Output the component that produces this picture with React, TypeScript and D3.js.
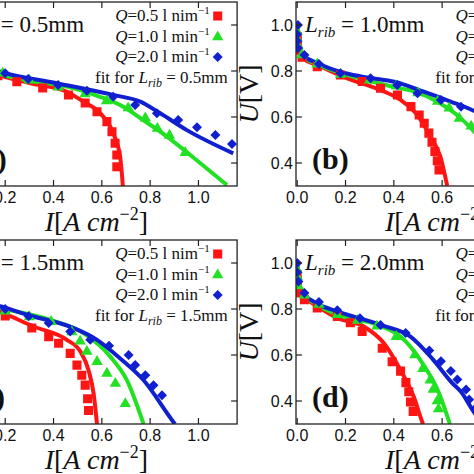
import React from 'react';
import * as d3 from 'd3';

// ---------- tick values / labels ----------
const X_TICKS = [0, 0.2, 0.4, 0.6, 0.8, 1.0];
const Y_TICKS = [0.4, 0.6, 0.8, 1.0];
const RIB_LENGTHS = ['0.5', '1.0', '1.5', '2.0'];
const PANEL_LETTERS = ['a', 'b', 'c', 'd'];
const FLOW_RATES = ['0.5', '1.0', '2.0'];
const FLOW_UNITS = ['nim', 'min', 'min'];

// ---------- panel (a): L_rib = 0.5 mm ----------
const aRedPts = [[0,0.95],[0,0.92],[0.005,0.89],[0.03,0.85],[0.08,0.82],[0.17,0.78],[0.248,0.753],[0.355,0.726],[0.462,0.696],[0.531,0.661],[0.58,0.623],[0.621,0.58],[0.642,0.536],[0.655,0.486],[0.662,0.435],[0.662,0.384]];
const aRedFit = [[0,0.99],[0.003,0.93],[0.01,0.89],[0.03,0.855],[0.08,0.822],[0.179,0.781],[0.3,0.748],[0.455,0.71],[0.523,0.667],[0.593,0.617],[0.647,0.53],[0.676,0.426],[0.687,0.3]];
const aGreenPts = [[0,0.97],[0,0.94],[0.005,0.9],[0.03,0.86],[0.09,0.83],[0.19,0.79],[0.3,0.76],[0.42,0.73],[0.53,0.7],[0.62,0.67],[0.709,0.639],[0.78,0.595],[0.83,0.55],[0.88,0.52],[0.945,0.445]];
const aGreenFit = [[0,0.99],[0.003,0.935],[0.01,0.895],[0.03,0.86],[0.08,0.828],[0.179,0.786],[0.3,0.758],[0.455,0.732],[0.593,0.688],[0.689,0.645],[0.771,0.587],[0.871,0.514],[0.966,0.435],[1.118,0.304]];
const aBluePts = [[0,1.0],[0,0.96],[0.005,0.92],[0.03,0.87],[0.1,0.83],[0.2,0.79],[0.295,0.765],[0.419,0.739],[0.538,0.714],[0.647,0.688],[0.738,0.652],[0.828,0.616],[0.916,0.587],[0.994,0.555],[1.07,0.522],[1.139,0.483]];
const aBlueFit = [[0,1.0],[0.003,0.94],[0.01,0.9],[0.03,0.865],[0.08,0.835],[0.179,0.797],[0.414,0.747],[0.647,0.696],[0.759,0.667],[0.842,0.616],[0.952,0.543],[1.144,0.442]];

// ---------- panel (b): L_rib = 1.0 mm ----------
const bRedPts = [[0,0.95],[0,0.93],[0,0.91],[0.003,0.89],[0.02,0.86],[0.083,0.819],[0.179,0.783],[0.269,0.754],[0.345,0.725],[0.415,0.696],[0.471,0.645],[0.505,0.609],[0.526,0.573],[0.545,0.53],[0.558,0.49],[0.57,0.45],[0.58,0.41],[0.587,0.37]];
const bRedFit = [[0,0.99],[0.003,0.93],[0.01,0.885],[0.03,0.85],[0.083,0.826],[0.207,0.768],[0.345,0.717],[0.428,0.674],[0.497,0.609],[0.552,0.514],[0.593,0.427],[0.621,0.3]];
const bGreenPts = [[0,0.97],[0,0.94],[0.003,0.91],[0.02,0.87],[0.083,0.83],[0.18,0.785],[0.3,0.76],[0.41,0.735],[0.5,0.705],[0.581,0.667],[0.629,0.638],[0.671,0.594],[0.72,0.56],[0.77,0.52],[0.82,0.47],[0.87,0.42]];
const bGreenFit = [[0,0.99],[0.003,0.935],[0.01,0.895],[0.03,0.86],[0.083,0.83],[0.2,0.785],[0.402,0.73],[0.504,0.705],[0.567,0.674],[0.678,0.594],[0.733,0.536],[0.8,0.47],[0.9,0.37],[0.97,0.3]];
const bBluePts = [[0.003,1.0],[0,0.96],[0,0.93],[0.003,0.9],[0.03,0.87],[0.09,0.83],[0.179,0.79],[0.304,0.768],[0.414,0.739],[0.498,0.703],[0.595,0.674],[0.678,0.645],[0.77,0.6],[0.86,0.56],[0.95,0.52],[1.04,0.48],[1.12,0.44]];
const bBlueFit = [[0,1.0],[0.003,0.94],[0.01,0.9],[0.03,0.865],[0.083,0.835],[0.2,0.79],[0.3,0.77],[0.402,0.753],[0.524,0.71],[0.635,0.667],[0.733,0.626],[0.85,0.56],[1.0,0.45],[1.15,0.34]];

// ---------- panel (c): L_rib = 1.5 mm ----------
const cRedPts = [[0,0.95],[0,0.92],[0.005,0.89],[0.03,0.85],[0.1,0.81],[0.2,0.77],[0.31,0.717],[0.38,0.68],[0.421,0.651],[0.469,0.607],[0.497,0.556],[0.517,0.512],[0.531,0.469],[0.541,0.41],[0.545,0.359]];
const cRedFit = [[0,0.99],[0.003,0.93],[0.01,0.885],[0.03,0.85],[0.08,0.82],[0.179,0.787],[0.317,0.724],[0.455,0.666],[0.511,0.615],[0.545,0.534],[0.566,0.432],[0.58,0.3]];
const cGreenPts = [[0,0.97],[0,0.94],[0.005,0.9],[0.03,0.86],[0.1,0.83],[0.2,0.79],[0.3,0.765],[0.39,0.745],[0.476,0.7],[0.51,0.66],[0.538,0.615],[0.58,0.571],[0.621,0.52],[0.656,0.476],[0.697,0.388]];
const cGreenFit = [[0,0.99],[0.003,0.935],[0.01,0.895],[0.03,0.86],[0.08,0.83],[0.179,0.804],[0.386,0.753],[0.524,0.695],[0.635,0.593],[0.704,0.49],[0.773,0.3]];
const cBluePts = [[0,1.0],[0,0.96],[0.005,0.92],[0.03,0.87],[0.1,0.835],[0.2,0.8],[0.297,0.768],[0.38,0.739],[0.469,0.702],[0.552,0.666],[0.63,0.64],[0.711,0.6],[0.738,0.556],[0.78,0.512],[0.814,0.469],[0.849,0.425]];
const cBlueFit = [[0,1.0],[0.003,0.94],[0.01,0.9],[0.03,0.865],[0.08,0.835],[0.179,0.812],[0.29,0.775],[0.483,0.717],[0.58,0.666],[0.676,0.585],[0.773,0.49],[0.897,0.308],[0.903,0.3]];

// ---------- panel (d): L_rib = 2.0 mm ----------
const dRedPts = [[0,0.95],[0,0.92],[0,0.9],[0.005,0.87],[0.03,0.84],[0.083,0.804],[0.166,0.768],[0.22,0.74],[0.269,0.702],[0.352,0.629],[0.393,0.571],[0.428,0.53],[0.45,0.48],[0.462,0.44],[0.469,0.396],[0.48,0.355]];
const dRedFit = [[0,0.99],[0.003,0.93],[0.01,0.885],[0.028,0.855],[0.08,0.815],[0.166,0.761],[0.276,0.724],[0.359,0.651],[0.428,0.534],[0.483,0.417],[0.518,0.308],[0.521,0.3]];
const dGreenPts = [[0,0.97],[0,0.94],[0.005,0.9],[0.03,0.86],[0.09,0.82],[0.166,0.775],[0.25,0.75],[0.33,0.725],[0.41,0.68],[0.487,0.6],[0.52,0.54],[0.55,0.49],[0.563,0.45],[0.58,0.4],[0.585,0.365]];
const dGreenFit = [[0,0.99],[0.003,0.935],[0.01,0.895],[0.03,0.86],[0.08,0.82],[0.166,0.775],[0.331,0.731],[0.428,0.68],[0.518,0.565],[0.587,0.435],[0.632,0.3]];
const dBluePts = [[0,1.0],[0,0.96],[0.005,0.92],[0.03,0.87],[0.09,0.83],[0.166,0.795],[0.26,0.76],[0.345,0.73],[0.449,0.696],[0.547,0.62],[0.595,0.573],[0.636,0.53],[0.663,0.493],[0.699,0.45],[0.712,0.406],[0.74,0.37]];
const dBlueFit = [[0,1.0],[0.003,0.94],[0.01,0.9],[0.03,0.865],[0.08,0.825],[0.166,0.79],[0.345,0.731],[0.469,0.68],[0.56,0.583],[0.64,0.48],[0.678,0.44],[0.733,0.35],[0.77,0.3]];

const PANEL_POINTS = [
  [aRedPts, aGreenPts, aBluePts],
  [bRedPts, bGreenPts, bBluePts],
  [cRedPts, cGreenPts, cBluePts],
  [dRedPts, dGreenPts, dBluePts],
];
const PANEL_FITS = [
  [aRedFit, aGreenFit, aBlueFit],
  [bRedFit, bGreenFit, bBlueFit],
  [cRedFit, cGreenFit, cBlueFit],
  [dRedFit, dGreenFit, dBlueFit],
];

// ---------- styling / layout ----------
const COLORS = ['#ff1414', '#22e022', '#1020d0'];
const LAYOUT = [
  { left: -44.3, top: 2 },
  { left: 296, top: 2 },
  { left: -44.3, top: 240 },
  { left: 296, top: 240 },
];
const PW = 281.4;
const PH = 184;
const SERIF = '"Liberation Serif", "DejaVu Serif", serif';
const SANS = '"Liberation Sans", Arial, sans-serif';
const FRAME = '#222';

function Marker({ kind, x, y, color }: { kind: number; x: number; y: number; color: string }) {
  if (kind === 0) {
    const p = d3.symbol().type(d3.symbolSquare).size(82)();
    return <path d={p || ''} transform={`translate(${x},${y})`} fill={color} />;
  }
  if (kind === 1) {
    const p = d3.symbol().type(d3.symbolTriangle).size(56)();
    return <path d={p || ''} transform={`translate(${x},${y})`} fill={color} />;
  }
  const p = d3.symbol().type(d3.symbolSquare).size(50)();
  return <path d={p || ''} transform={`translate(${x},${y}) rotate(45)`} fill={color} />;
}

function Panel({ i }: { i: number }) {
  const { left, top } = LAYOUT[i];
  const x = d3.scaleLinear().domain([-0.005, 1.16]).range([left, left + PW]);
  const y = d3.scaleLinear().domain([0.3, 1.1]).range([top + PH, top]);
  const bottom = top + PH;
  const right = left + PW;
  const line = d3
    .line<number[]>()
    .x((d) => x(d[0]))
    .y((d) => y(d[1]))
    .curve(d3.curveMonotoneX);
  const clipId = `clip-${i}`;
  const tick = 6;
  const cx = (left + right) / 2;
  const cy = (top + bottom) / 2;
  const legX = left + 254;
  const legBase = [top + 19, top + 40, top + 60];

  return (
    <g>
      <defs>
        <clipPath id={clipId}>
          <rect x={left} y={top} width={PW} height={PH} />
        </clipPath>
      </defs>
      {/* data */}
      <g clipPath={`url(#${clipId})`}>
        {PANEL_FITS[i].map((fit, k) => (
          <path key={`f${k}`} d={line(fit) || ''} fill="none" stroke={COLORS[k]} strokeWidth={4} strokeLinecap="butt" />
        ))}
        {PANEL_POINTS[i].map((pts, k) =>
          pts.map((p, j) => <Marker key={`m${k}-${j}`} kind={k} x={x(p[0])} y={y(p[1])} color={COLORS[k]} />)
        )}
      </g>
      {/* frame */}
      <rect x={left} y={top} width={PW} height={PH} fill="none" stroke={FRAME} strokeWidth={1.3} />
      {X_TICKS.map((t) => (
        <g key={`xt${t}`}>
          <line x1={x(t)} x2={x(t)} y1={bottom} y2={bottom - tick} stroke={FRAME} strokeWidth={1.2} />
          <line x1={x(t)} x2={x(t)} y1={top} y2={top + tick} stroke={FRAME} strokeWidth={1.2} />
          <text x={x(t)} y={bottom + 17} textAnchor="middle" fontFamily={SANS} fontSize={16} fill="#111">
            {t.toFixed(1)}
          </text>
        </g>
      ))}
      {Y_TICKS.map((t) => (
        <g key={`yt${t}`}>
          <line x1={left} x2={left + tick} y1={y(t)} y2={y(t)} stroke={FRAME} strokeWidth={1.2} />
          <line x1={right} x2={right - tick} y1={y(t)} y2={y(t)} stroke={FRAME} strokeWidth={1.2} />
          <text x={left - 3} y={y(t) + 6} textAnchor="end" fontFamily={SANS} fontSize={16} fill="#111">
            {t.toFixed(1)}
          </text>
        </g>
      ))}
      {/* axis labels */}
      <text x={cx} y={bottom + 45} textAnchor="middle" fontFamily={SERIF} fontSize={28} fill="#111">
        <tspan fontStyle="italic">I</tspan>
        <tspan>[</tspan>
        <tspan fontStyle="italic">A cm</tspan>
        <tspan fontSize={18} dy={-11}>−2</tspan>
        <tspan dy={11}>]</tspan>
      </text>
      <text
        transform={`translate(${left - 38},${cy}) rotate(-90)`}
        textAnchor="middle"
        fontFamily={SERIF}
        fontSize={28}
        fill="#111"
      >
        <tspan fontStyle="italic">U</tspan>
        <tspan>[V]</tspan>
      </text>
      {/* rib-length label */}
      <text x={left + 9} y={top + 30} fontFamily={SERIF} fontSize={23} fill="#111">
        <tspan fontStyle="italic">L</tspan>
        <tspan fontStyle="italic" fontSize={15} dy={5}>rib</tspan>
        <tspan dy={-5}>{` = ${RIB_LENGTHS[i]}mm`}</tspan>
      </text>
      {/* panel letter */}
      <text x={left + 16} y={top + 167} fontFamily={SERIF} fontSize={30} fontWeight="bold" fill="#111">
        {`(${PANEL_LETTERS[i]})`}
      </text>
      {/* legend */}
      {FLOW_RATES.map((q, k) => (
        <g key={`lg${k}`}>
          <text x={legX} y={legBase[k]} textAnchor="end" fontFamily={SERIF} fontSize={17} fill="#111">
            <tspan fontStyle="italic">Q</tspan>
            <tspan>{`=${q} l ${FLOW_UNITS[k]}`}</tspan>
            <tspan fontSize={11} dy={-7}>−1</tspan>
          </text>
          <Marker kind={k} x={legX + 8} y={legBase[k] - 5} color={COLORS[k]} />
        </g>
      ))}
      <text x={left + 272} y={top + 81} textAnchor="end" fontFamily={SERIF} fontSize={17} fill="#111">
        <tspan>fit for </tspan>
        <tspan fontStyle="italic">L</tspan>
        <tspan fontStyle="italic" fontSize={12} dy={4}>rib</tspan>
        <tspan dy={-4}>{` = ${RIB_LENGTHS[i]}mm`}</tspan>
      </text>
    </g>
  );
}

export default function App() {
  return (
    <svg
      width={474}
      height={474}
      viewBox="0 0 474 474"
      style={{ position: 'absolute', left: 0, top: 0, background: '#fff' }}
    >
      <rect x={0} y={0} width={474} height={474} fill="#fff" />
      {[0, 1, 2, 3].map((i) => (
        <Panel key={i} i={i} />
      ))}
    </svg>
  );
}
